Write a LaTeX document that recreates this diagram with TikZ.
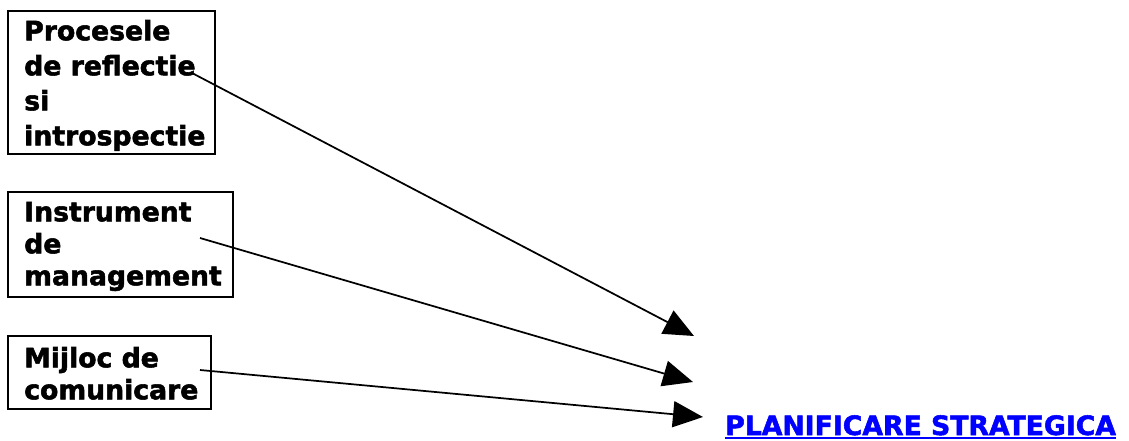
\documentclass[tikz,border=0pt]{standalone}
\usepackage{fontspec}
\setmainfont{DejaVu Sans}[BoldFeatures={FakeBold=2}]
\usetikzlibrary{arrows.meta}
\definecolor{linkblue}{RGB}{0,0,255}
\begin{document}
\begin{tikzpicture}[x=0.75pt,y=-0.75pt,
  box/.style={draw, line width=1.5pt, inner sep=0pt},
  label/.style={anchor=north west, inner sep=0pt, align=left},
  link/.style={line width=1.3pt, -{Triangle[length=22.5pt,width=19.5pt]}}]
\useasboundingbox (0,0) rectangle (1129,440);
% boxes
\node[box, minimum width=155.25pt, minimum height=107.25pt] (b1) at (111.5,82.5) {};
\node[box, minimum width=168.75pt, minimum height=78.75pt] (b2) at (120.5,244.5) {};
\node[box, minimum width=152.25pt, minimum height=54.75pt] (b3) at (109.5,372.5) {};
% texts
\node[label, font=\bfseries\fontsize{20}{26.25}\selectfont] (l1) at (24,18.67)
  {\rule{0pt}{16pt}Procesele\\de reflectie\\si\\introspectie};
\node[label, font=\bfseries\fontsize{20}{24}\selectfont] (l2) at (24,199.67)
  {\rule{0pt}{16pt}Instrument\\de\\management};
\node[label, font=\bfseries\fontsize{20}{24}\selectfont] (l3) at (24,345.67)
  {\rule{0pt}{16pt}Mijloc de\\comunicare};
\node[anchor=base west, inner sep=0pt, text=linkblue, font=\bfseries\fontsize{20}{24}\selectfont] (plan) at (725,435)
  {PLANIFICARE STRATEGICA};
\draw[linkblue, line width=1pt] ([yshift=-2.2pt]plan.base west) -- ([yshift=-2.2pt]plan.base east);
% connectors
\coordinate (s1) at (192,73);
\coordinate (s2) at (200,238);
\coordinate (s3) at (200,370);
\coordinate (t1) at (694,336);
\coordinate (t2) at (693,382);
\coordinate (t3) at (703,417);
\draw[link] (s1) -- (t1);
\draw[link] (s2) -- (t2);
\draw[link] (s3) -- (t3);
\end{tikzpicture}
\end{document}
